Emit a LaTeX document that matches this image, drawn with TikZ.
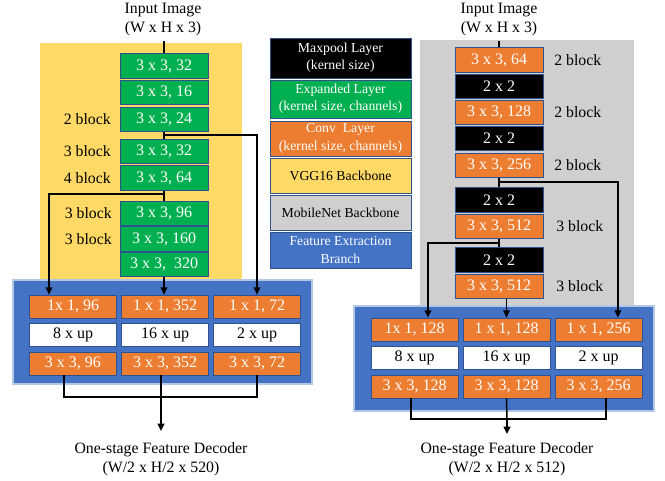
\documentclass[tikz,border=0pt]{standalone}
\usepackage{fontspec}
\setmainfont{Liberation Serif}
\usetikzlibrary{arrows.meta}
\definecolor{vggyellow}{HTML}{FFD966}
\definecolor{mobgray}{HTML}{D0CECE}
\definecolor{featblue}{HTML}{4472C4}
\definecolor{featedge}{HTML}{B4C7E7}
\definecolor{expgreen}{HTML}{00B050}
\definecolor{convorange}{HTML}{ED7D31}
\definecolor{boxedge}{HTML}{2F528F}
\tikzset{
  layer/.style={draw=boxedge, line width=0.5pt, minimum width=66pt, minimum height=18.3pt,
    inner sep=0pt, font=\fontsize{12}{14}\selectfont},
  expanded/.style={layer, fill=expgreen, text=white},
  conv/.style={layer, fill=convorange, text=white},
  pool/.style={layer, fill=black, text=white},
  upsmp/.style={layer, fill=white, text=black},
  dec/.style={minimum width=65pt, minimum height=17.25pt},
  link/.style={line width=1.1pt},
  arr/.style={link, -{Triangle[length=5.5pt,width=5pt]}},
  lbl/.style={inner sep=0pt, font=\fontsize{11.85}{14}\selectfont},
  caption/.style={align=center, inner sep=0pt, font=\fontsize{11.85}{14.3}\selectfont},
  key/.style={draw=boxedge, line width=0.5pt, minimum width=105.75pt, align=center,
    inner sep=0pt, font=\fontsize{10.3}{13}\selectfont},
  panel/.style={fill=featblue, draw=featedge, line width=0.8pt},
}
\begin{document}
\begin{tikzpicture}[x=0.75pt, y=-0.75pt]
\useasboundingbox (0,0) rectangle (665,481);

% ---------- backbones ----------
\fill[vggyellow] (40,43) rectangle (242,282);
\fill[mobgray] (420,40) rectangle (634,308);

% ---------- feature extraction branches ----------
\draw[panel] (13,280) rectangle (312,384);
\draw[panel] (354,306) rectangle (654,411);

% ---------- left: expanded layers ----------
\node[caption] (inLtxt) at (163,19.5) {Input Image\\(W x H x 3)};
\coordinate (inL) at (164,41);
\node[expanded] (g1) at (164,66) {3 x 3, 32};
\node[expanded] (g2) at (164,92.5) {3 x 3, 16};
\node[expanded] (g3) at (164,119.5) {3 x 3, 24};
\node[expanded] (g4) at (164,151.5) {3 x 3, 32};
\node[expanded] (g5) at (164,178) {3 x 3, 64};
\node[expanded] (g6) at (164,213.5) {3 x 3, 96};
\node[expanded] (g7) at (164,239) {3 x 3, 160};
\node[expanded] (g8) at (164,264.5) {3 x 3,\ \ 320};

\node[lbl, anchor=east] (lb1) at (111,119.5) {2 block};
\node[lbl, anchor=east] (lb2) at (111,151.5) {3 block};
\node[lbl, anchor=east] (lb3) at (111,178) {4 block};
\node[lbl, anchor=east] (lb4) at (112,213.5) {3 block};
\node[lbl, anchor=east] (lb5) at (112,239) {3 block};

% left decoder rows
\node[conv, dec] (lA1) at (73,306.5) {1x 1, 96};
\node[conv, dec] (lB1) at (165,306.5) {1 x 1, 352};
\node[conv, dec] (lC1) at (257,306.5) {1 x 1, 72};
\node[upsmp, dec] (lA2) at (73,335) {8 x up};
\node[upsmp, dec] (lB2) at (165,335) {16 x up};
\node[upsmp, dec] (lC2) at (257,335) {2 x up};
\node[conv, dec] (lA3) at (73,363.5) {3 x 3, 96};
\node[conv, dec] (lB3) at (165,363.5) {3 x 3, 352};
\node[conv, dec] (lC3) at (257,363.5) {3 x 3, 72};

\node[caption] (outLtxt) at (161,459.5) {One-stage Feature Decoder\\(W/2 x H/2 x 520)};

% left connectors
\coordinate (jL1) at (164,135);
\coordinate (jL2) at (164,194);
\coordinate (mL) at (161,397);
\coordinate (outL) at (161,431);
\draw[link] (inL) -- (g1.north);
\draw[link] (g3.south) -- (g4.north);
\draw[link] (g5.south) -- (g6.north);
\draw[arr] (jL1) -| (lC1.north);
\draw[arr] (jL2) -| ([xshift=-18pt]lA1.north);
\draw[arr] (g8.south) -- (lB1.north -| g8.south);
\draw[link] ([xshift=-6.75pt]lA3.south) |- (mL) -| (lC3.south);
\draw[link] ([xshift=-3pt]lB3.south) -- (mL);
\draw[arr] (mL) -- (outL);

% ---------- legend ----------
\node[key, fill=black, text=white, minimum height=30pt] (k1) at (340.5,58) {Maxpool Layer\\(kernel size)};
\node[key, fill=expgreen, text=white, minimum height=28.5pt] (k2) at (340.5,99) {Expanded Layer\\(kernel size, channels)};
\node[key, fill=convorange, text=white, minimum height=26.25pt] (k3) at (340.5,138.5) {Conv\ \ Layer\\(kernel size, channels)};
\node[key, fill=vggyellow, text=black, minimum height=26.25pt] (k4) at (340.5,175.5) {VGG16 Backbone};
\node[key, fill=mobgray, text=black, minimum height=26.25pt] (k5) at (340.5,212.5) {MobileNet Backbone};
\node[key, fill=featblue, text=white, minimum height=27pt] (k6) at (340.5,250) {Feature Extraction\\Branch};

% ---------- right: conv / maxpool layers ----------
\node[caption] (inRtxt) at (499,19.5) {Input Image\\(W x H x 3)};
\coordinate (inR) at (499,41);
\node[conv] (b1) at (499,60) {3 x 3, 64};
\node[pool] (b2) at (499,86.5) {2 x 2};
\node[conv] (b3) at (499,112.5) {3 x 3, 128};
\node[pool] (b4) at (499,138.5) {2 x 2};
\node[conv] (b5) at (499,165.5) {3 x 3, 256};
\node[pool] (b6) at (499,200) {2 x 2};
\node[conv] (b7) at (499,226.5) {3 x 3, 512};
\node[pool] (b8) at (499,260) {2 x 2};
\node[conv] (b9) at (499,286.5) {3 x 3, 512};

\node[lbl, anchor=west] (rb1) at (554,60) {2 block};
\node[lbl, anchor=west] (rb2) at (554,112.5) {2 block};
\node[lbl, anchor=west] (rb3) at (554,165.5) {2 block};
\node[lbl, anchor=west] (rb4) at (556,226.5) {3 block};
\node[lbl, anchor=west] (rb5) at (556,286.5) {3 block};

% right decoder rows
\node[conv, dec] (rA1) at (414.5,329.5) {1x 1, 128};
\node[conv, dec] (rB1) at (506.5,329.5) {1 x 1, 128};
\node[conv, dec] (rC1) at (598.5,329.5) {1 x 1, 256};
\node[upsmp, dec] (rA2) at (414.5,358) {8 x up};
\node[upsmp, dec] (rB2) at (506.5,358) {16 x up};
\node[upsmp, dec] (rC2) at (598.5,358) {2 x up};
\node[conv, dec] (rA3) at (414.5,386.5) {3 x 3, 128};
\node[conv, dec] (rB3) at (506.5,386.5) {3 x 3, 128};
\node[conv, dec] (rC3) at (598.5,386.5) {3 x 3, 256};

\node[caption] (outRtxt) at (507,459) {One-stage Feature Decoder\\(W/2 x H/2 x 512)};

% right connectors
\coordinate (jR1) at (499,182);
\coordinate (jR2) at (499,243);
\coordinate (mR) at (507,419);
\coordinate (outR) at (507,434);
\draw[link] (inR) -- (b1.north);
\draw[link] (b5.south) -- (b6.north);
\draw[link] (b7.south) -- (b8.north);
\draw[arr] (jR1) -| ([xshift=14.6pt]rC1.north);
\draw[arr] (jR2) -| ([xshift=10.1pt]rA1.north);
\draw[arr] (rB1.north |- b9.south) -- (rB1.north);
\draw[link] ([xshift=-2.6pt]rA3.south) |- (mR) -| ([xshift=5.6pt]rC3.south);
\draw[link] (rB3.south) -- (mR);
\draw[arr] (mR) -- (outR);
\end{tikzpicture}
\end{document}
